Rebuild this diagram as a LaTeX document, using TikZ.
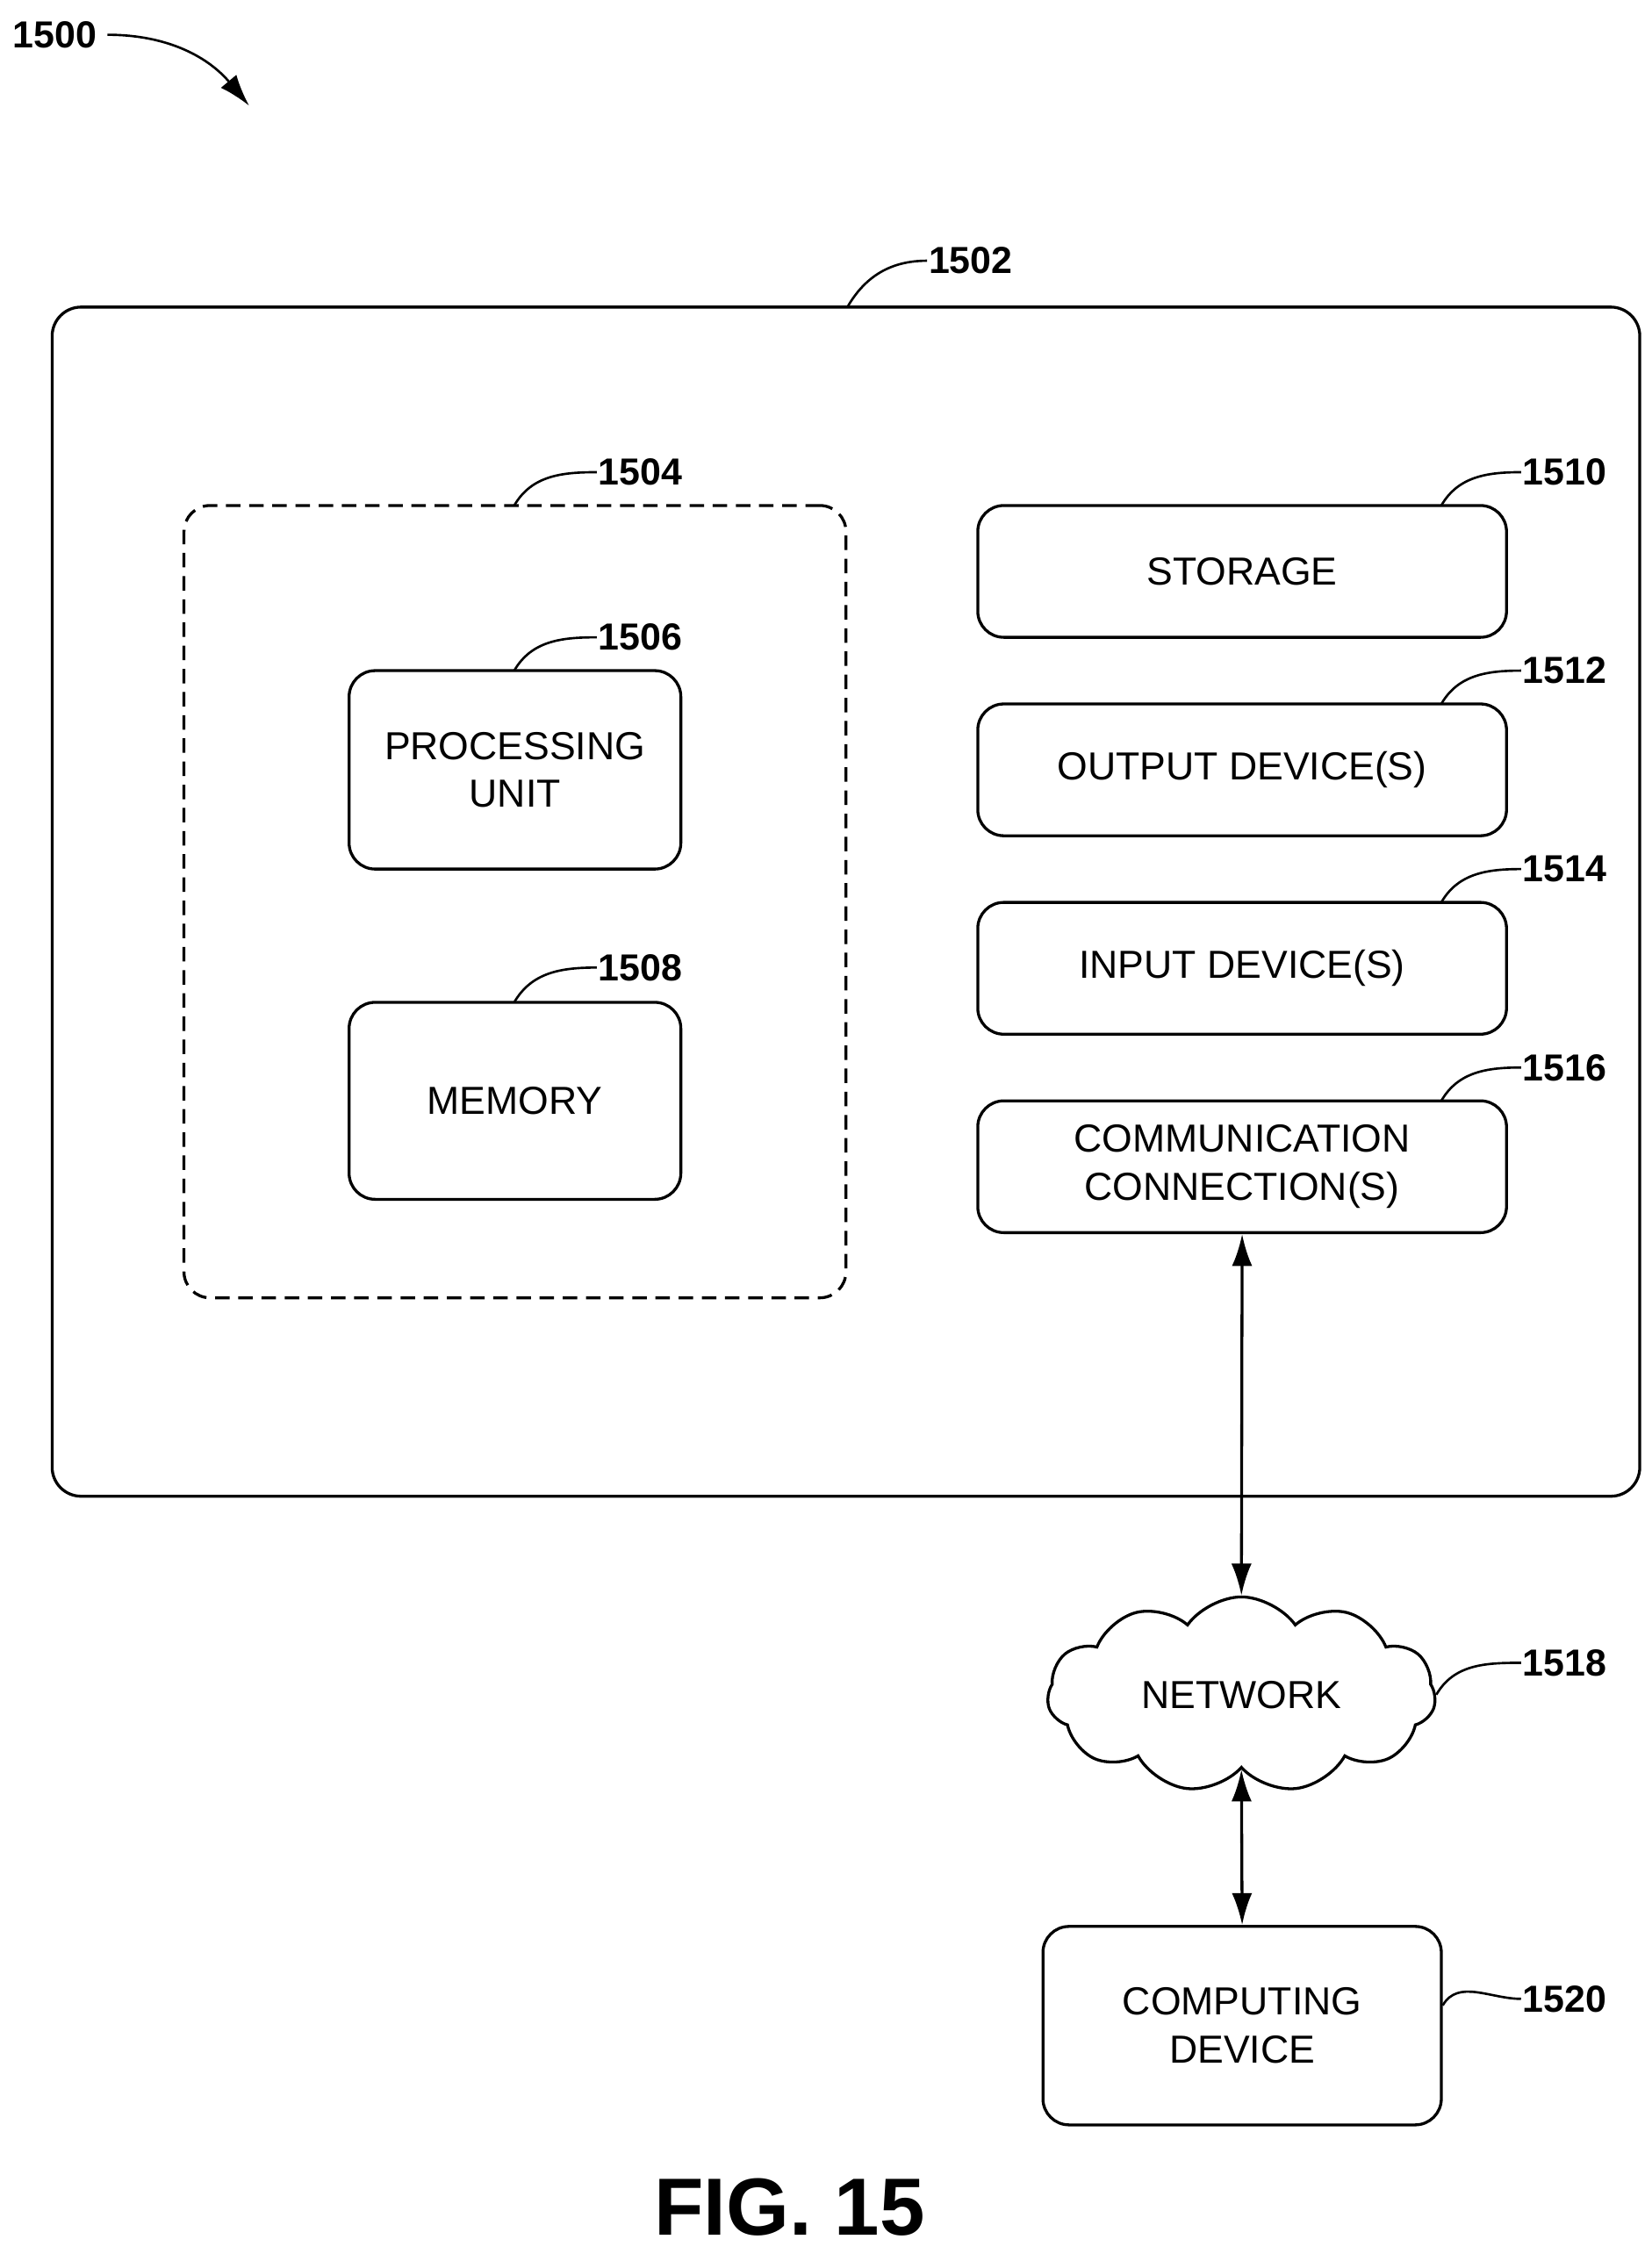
\documentclass[tikz,border=0pt]{standalone}
\usepackage{fontspec}
\setmainfont{Liberation Sans}
\usetikzlibrary{positioning,shapes.symbols,arrows.meta}
\tikzset{
  blk/.style={draw, line width=2pt, rounded corners=18pt, align=center, font=\fontsize{27}{33}\selectfont},
  ref/.style={font=\bfseries\fontsize{26}{30}\selectfont, anchor=west, inner sep=1pt},
  lead/.style={line width=1.6pt},
  dbl/.style={line width=2pt, {Latex[length=22pt,width=14pt]}-{Latex[length=22pt,width=14pt]}}
}
\begin{document}
\begin{tikzpicture}[x=1pt,y=-1pt]
\useasboundingbox (0,0) rectangle (1140,1561);

% outer device
\node[blk, rounded corners=20pt, minimum width=1096pt, minimum height=821pt] (dev) at (584,622.5) {};
\node[ref] (l_dev) at (640,180) {1502};
\draw[lead] (585,212) to[out=60,in=180] (l_dev.west);

% memory group
\node[blk, dash pattern=on 10pt off 6pt, minimum width=457pt, minimum height=547pt] (grp) at (355.5,622.5) {};
\node[ref] (l_grp) at (412,326) {1504};
\draw[lead] (355,349) to[out=60,in=180] (l_grp.west);

\node[blk, minimum width=229pt, minimum height=137pt] (cpu) at (355.5,531.5) {PROCESSING\\UNIT};
\node[ref] (l_cpu) at (412,440) {1506};
\draw[lead] (355,463) to[out=60,in=180] (l_cpu.west);

\node[blk, minimum width=229pt, minimum height=136pt] (mem) at (355.5,760) {MEMORY};
\node[ref] (l_mem) at (412,668) {1508};
\draw[lead] (355,692) to[out=60,in=180] (l_mem.west);

% right column
\node[blk, minimum width=365pt, minimum height=91pt] (sto) at (857.5,394.5) {STORAGE};
\node[blk, minimum width=365pt, minimum height=91pt] (out) at (857.5,531.5) {OUTPUT DEVICE(S)};
\node[blk, minimum width=365pt, minimum height=91pt] (inp) at (857.5,668.5) {INPUT DEVICE(S)};
\node[blk, minimum width=365pt, minimum height=91pt] (com) at (857.5,805.5) {COMMUNICATION\\CONNECTION(S)};
\foreach \b/\n/\y in {sto/1510/326, out/1512/463, inp/1514/600, com/1516/737}{
  \node[ref] (l_\b) at (1050,\y) {\n};
  \draw[lead] (995,\y+23) to[out=60,in=180] (l_\b.west);
}

% network
\node[cloud, draw, line width=2pt, cloud puffs=11, cloud puff arc=110, aspect=2.1,
      minimum width=268pt, minimum height=135pt, inner sep=0pt,
      font=\fontsize{27}{33}\selectfont] (net) at (857,1170) {NETWORK};
\node[ref] (l_net) at (1050,1148) {1518};
\draw[lead] (net.east) to[out=60,in=180] (l_net.west);

\node[blk, minimum width=275pt, minimum height=137pt] (pc) at (857.5,1398.5) {COMPUTING\\DEVICE};
\node[ref] (l_pc) at (1050,1380) {1520};
\draw[lead] (pc.east) ++(0,-14) to[out=60,in=180] (l_pc.west);

\draw[dbl] (com.south) -- (net.north);
\draw[dbl] (net.south) -- (pc.north);

% figure number
\node[ref, anchor=center] (l_fig) at (38,24) {1500};
\draw[line width=1.6pt, -{Latex[length=22pt,width=14pt]}] (l_fig.east) ++(6,0) to[out=0,in=130] (172,73);
\node[font=\bfseries\fontsize{56}{64}\selectfont, inner sep=0pt] (fig) at (545,1524) {FIG. 15};
\end{tikzpicture}
\end{document}
